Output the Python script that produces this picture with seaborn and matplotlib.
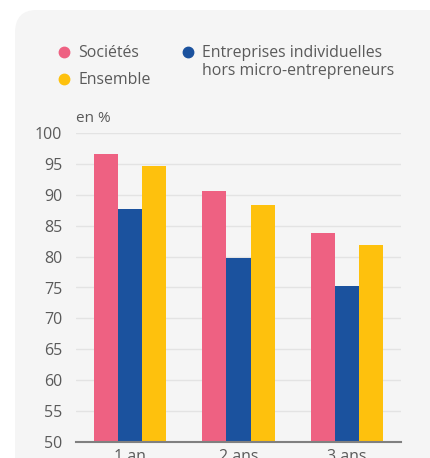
import matplotlib
matplotlib.use("Agg")
import matplotlib.pyplot as plt
from matplotlib.patches import FancyBboxPatch
from matplotlib.lines import Line2D
import seaborn as sns
import pandas as pd

categories = ["1 an", "2 ans", "3 ans"]
series = ["Sociétés", "Entreprises individuelles\nhors micro-entrepreneurs", "Ensemble"]
societes = [96.7, 90.7, 83.9]
entreprises_ind = [87.7, 79.8, 75.3]
ensemble = [94.7, 88.4, 81.9]
yticks = [50, 55, 60, 65, 70, 75, 80, 85, 90, 95, 100]
colors = ["#EE6182", "#1B529E", "#FEC10D"]

rows = []
for s, vals in zip(series, [societes, entreprises_ind, ensemble]):
    for c, v in zip(categories, vals):
        rows.append({"cat": c, "serie": s, "val": v})
df = pd.DataFrame(rows)

sns.set_theme(style="white")
plt.rcParams['font.family'] = ['Open Sans', 'DejaVu Sans']

W, H = 430, 458
fig = plt.figure(figsize=(W/100, H/100), dpi=100)
fig.patch.set_facecolor("white")

# light panel with rounded corner
panel = FancyBboxPatch((15/W, -0.2), (W-15)/W + 0.2, (H-10)/H + 0.2,
                       boxstyle="round,pad=0,rounding_size=0.05",
                       transform=fig.transFigure, facecolor="#F5F5F5",
                       edgecolor="none", zorder=-10)
fig.patches.append(panel)

ax = fig.add_axes([76/W, 1-441.7/H, (401-76)/W, (441.7-133.3)/H])
ax.set_facecolor("none")
sns.barplot(data=df, x="cat", y="val", hue="serie", palette=colors,
            width=0.665, ax=ax, legend=False, saturation=1, edgecolor="none")
ax.set_ylim(50, 100)
ax.set_xlim(-0.5, 2.5)
ax.set_yticks(yticks)
ax.yaxis.grid(True, color="#E3E3E3", linewidth=1)
ax.set_axisbelow(True)
for sp in ["top", "right", "left"]:
    ax.spines[sp].set_visible(False)
ax.spines["bottom"].set_color("#808080")
ax.spines["bottom"].set_linewidth(1.5)
ax.set_xlabel("")
ax.set_ylabel("")
ax.tick_params(axis="y", length=0, pad=10, labelsize=11.5, labelcolor="#5a5a5a")
ax.tick_params(axis="x", length=0, pad=5, labelsize=11.5, labelcolor="#5a5a5a")

fig.text(76/W, 1-118/H, "en %", fontsize=11, color="#5a5a5a", va="center", ha="left")

# legend
leg_items = [(64, 52, 78, series[0], colors[0]),
             (64, 79, 78, series[2], colors[2]),
             (188, 52, 202, series[1], colors[1])]
for dx, dy, tx, label, col in leg_items:
    fig.add_artist(Line2D([dx/W], [1-dy/H], marker="o", markersize=7.5,
                          color=col, linestyle="none", transform=fig.transFigure))
    fig.text(tx/W, 1-(dy-7)/H, label, fontsize=11.4, color="#5a5a5a",
             va="top", ha="left", linespacing=1.15)

fig.savefig("out.png", dpi=100)
